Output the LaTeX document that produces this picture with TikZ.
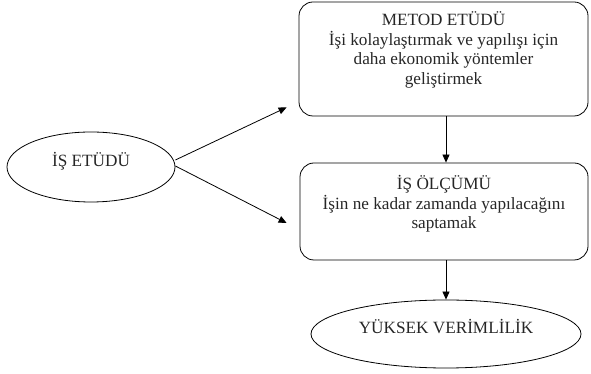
\documentclass[tikz,border=0pt]{standalone}
\usepackage{fontspec}
\setmainfont{Liberation Serif}
\usetikzlibrary{shapes.geometric,arrows.meta}

\begin{document}
\begin{tikzpicture}[x=1pt,y=1pt,
    kutu/.style={draw,line width=0.8pt,rounded corners=14pt,inner sep=0pt},
    elips/.style={draw,ellipse,line width=0.8pt,inner sep=0pt,text height=10pt,text depth=10pt},
    yazi/.style={align=center,text=black!85,font=\fontsize{17.2}{19.5}\selectfont},
    oku/.style={line width=0.8pt,-{Triangle[length=8pt,width=7pt]}}]
  \useasboundingbox (0,0) rectangle (591,374);
  \node[kutu,minimum width=289pt,minimum height=114pt] (metod) at (443.5,315) {};
  \node[yazi] (metodyazi) at ([yshift=9pt]metod.center)
    {METOD ETÜDÜ\\ İşi kolaylaştırmak ve yapılışı için\\ daha ekonomik yöntemler\\ geliştirmek};
  \node[kutu,minimum width=288pt,minimum height=97pt] (olcum) at (444,162.5) {};
  \node[yazi] (olcumyazi) at ([yshift=7.5pt]olcum.center)
    {İŞ ÖLÇÜMÜ\\ İşin ne kadar zamanda yapılacağını\\ saptamak};
  \node[elips,yazi,minimum width=168pt,minimum height=70pt] (isetudu) at (91,207) {İŞ ETÜDÜ};
  \node[elips,yazi,minimum width=270pt,minimum height=68pt] (verim) at (446,40) {YÜKSEK VERİMLİLİK};
  \coordinate (ust) at ([shift={(-12pt,9pt)}]metod.south west);
  \coordinate (alt) at ([shift={(-13pt,-11.5pt)}]olcum.west);
  \path[oku]
    ([yshift=7pt]isetudu.east) edge (ust)
    ([yshift=1pt]isetudu.east) edge (alt)
    (metod.south -| verim.north) edge (olcum.north -| verim.north)
    (olcum.south -| verim.north) edge (verim.north);
\end{tikzpicture}
\end{document}
